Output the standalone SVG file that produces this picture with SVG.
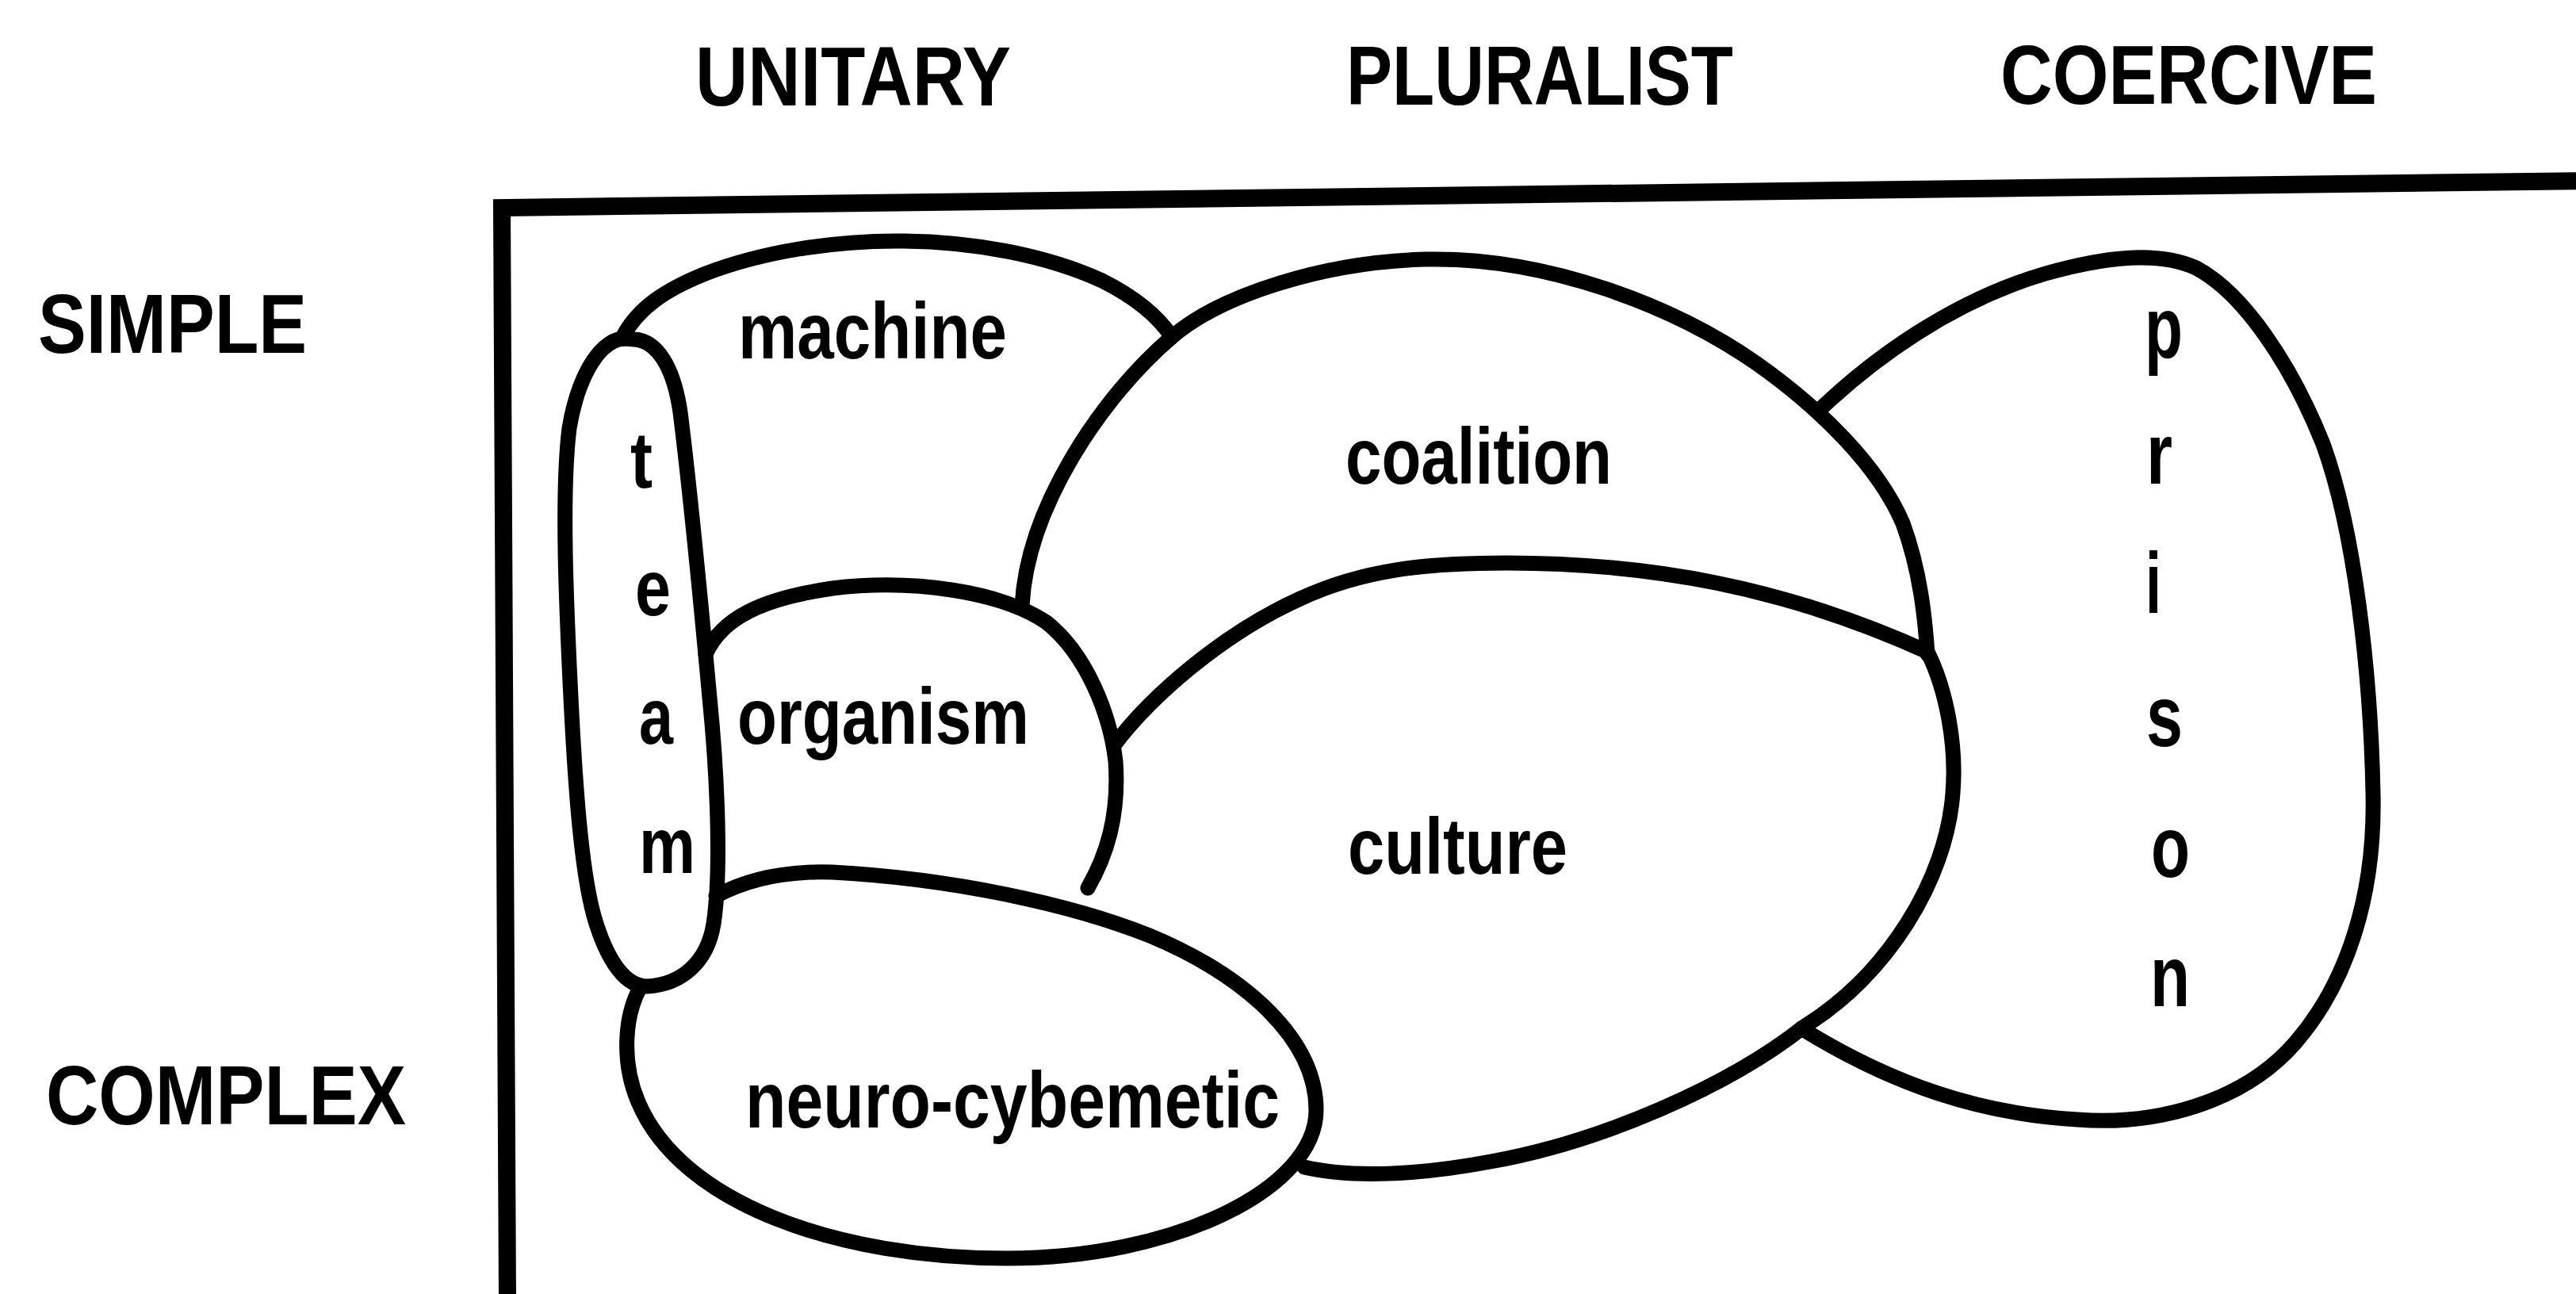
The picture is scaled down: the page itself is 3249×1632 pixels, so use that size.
<svg xmlns="http://www.w3.org/2000/svg" width="3249" height="1632" viewBox="0 0 3249 1632">
  <style>
    .outline { fill: none; stroke: #000; stroke-width: 19; stroke-linecap: round; stroke-linejoin: round; }
    .frame { fill: none; stroke: #000; stroke-width: 22; stroke-linejoin: miter; }
    .head { font-family: "Liberation Sans", Arial, sans-serif; font-weight: bold; font-size: 106px; fill: #000; }
    .lbl { font-family: "Liberation Sans", Arial, sans-serif; font-weight: bold; font-size: 100px; fill: #000; }
    .big { font-size: 110px; }
  </style>
  <rect width="3249" height="1632" fill="#fff"/>

  <!-- column and row headings -->
  <g id="headings">
    <text class="head" x="877" y="133" textLength="398" lengthAdjust="spacingAndGlyphs">UNITARY</text>
    <text class="head" x="1698" y="132" textLength="488" lengthAdjust="spacingAndGlyphs">PLURALIST</text>
    <text class="head" x="2523" y="131" textLength="475" lengthAdjust="spacingAndGlyphs">COERCIVE</text>
    <text class="head" x="48" y="445" textLength="339" lengthAdjust="spacingAndGlyphs">SIMPLE</text>
    <text class="head" x="58" y="1418" textLength="454" lengthAdjust="spacingAndGlyphs">COMPLEX</text>
  </g>

  <!-- axis frame -->
  <g id="frame">
    <path class="frame" d="M 640,1640 L 633,262 L 3260,228"/>
  </g>

  <!-- team capsule -->
  <g id="team">
    <path class="outline" d="M 780,428 C 752,436 728,480 718,540 C 708,620 714,760 720,880 C 726,1000 734,1110 752,1165 C 768,1215 790,1244 816,1244 C 858,1242 892,1215 900,1165 C 910,1100 905,980 895,880 C 884,760 868,600 858,520 C 850,465 830,430 800,428 C 792,427 786,427 780,428 Z"/>
    <text class="lbl" x="795" y="615" textLength="28" lengthAdjust="spacingAndGlyphs">t</text>
    <text class="lbl" x="801" y="776" textLength="45" lengthAdjust="spacingAndGlyphs">e</text>
    <text class="lbl" x="806" y="938" textLength="43" lengthAdjust="spacingAndGlyphs">a</text>
    <text class="lbl" x="806" y="1101" textLength="71" lengthAdjust="spacingAndGlyphs">m</text>
  </g>

  <!-- machine -->
  <g id="machine">
    <path class="outline" d="M 786,424 C 805,388 840,365 890,345 C 960,318 1050,303 1140,304 C 1230,305 1320,322 1390,354 C 1430,374 1460,398 1478,425"/>
    <text class="lbl" x="931" y="452" textLength="339" lengthAdjust="spacingAndGlyphs">machine</text>
  </g>

  <!-- organism -->
  <g id="organism">
    <path class="outline" d="M 890,825 C 910,780 960,755 1050,742 C 1150,730 1260,745 1320,785 C 1370,825 1400,900 1407,960 C 1412,1030 1395,1080 1372,1120"/>
    <text class="lbl" x="930" y="938" textLength="368" lengthAdjust="spacingAndGlyphs">organism</text>
  </g>

  <!-- neuro-cybernetic -->
  <g id="neuro-cybernetic">
    <path class="outline" d="M 903,1130 C 940,1110 990,1098 1050,1100 C 1200,1108 1350,1140 1450,1180 C 1570,1230 1660,1310 1660,1400 C 1660,1500 1480,1587 1270,1587 C 1060,1587 860,1520 805,1390 C 783,1338 788,1280 808,1244"/>
    <text class="lbl" x="940" y="1422" textLength="674" lengthAdjust="spacingAndGlyphs">neuro-cybemetic</text>
  </g>

  <!-- coalition -->
  <g id="coalition">
    <path class="outline" d="M 1289,765 C 1295,640 1390,500 1478,425 C 1540,372 1670,330 1800,327 C 1950,324 2110,385 2215,458 C 2300,518 2370,590 2400,660 C 2422,720 2428,780 2431,825"/>
    <text class="lbl" x="1697" y="610" textLength="336" lengthAdjust="spacingAndGlyphs">coalition</text>
  </g>

  <!-- culture -->
  <g id="culture">
    <path class="outline" d="M 1405,940 C 1450,880 1540,800 1640,755 C 1720,718 1800,710 1900,710 C 2080,710 2250,740 2431,822 C 2455,870 2468,940 2463,1000 C 2455,1110 2380,1230 2275,1295 C 2180,1370 2020,1440 1880,1465 C 1790,1482 1705,1486 1645,1472"/>
    <text class="lbl" x="1700" y="1102" textLength="277" lengthAdjust="spacingAndGlyphs">culture</text>
  </g>

  <!-- prison -->
  <g id="prison">
    <path class="outline" d="M 2297,515 C 2360,455 2460,380 2580,345 C 2650,325 2720,315 2770,338 C 2830,370 2890,460 2930,560 C 2970,670 2990,850 2993,1000 C 2996,1130 2960,1240 2895,1315 C 2830,1390 2720,1420 2620,1412 C 2500,1405 2390,1370 2272,1297"/>
    <text class="lbl big" x="2705" y="451" textLength="48" lengthAdjust="spacingAndGlyphs">p</text>
    <text class="lbl big" x="2707" y="610" textLength="33" lengthAdjust="spacingAndGlyphs">r</text>
    <text class="lbl big" x="2706" y="773" textLength="20" lengthAdjust="spacingAndGlyphs">i</text>
    <text class="lbl big" x="2707" y="941" textLength="46" lengthAdjust="spacingAndGlyphs">s</text>
    <text class="lbl big" x="2713" y="1106" textLength="49" lengthAdjust="spacingAndGlyphs">o</text>
    <text class="lbl big" x="2712" y="1269" textLength="50" lengthAdjust="spacingAndGlyphs">n</text>
  </g>
</svg>
